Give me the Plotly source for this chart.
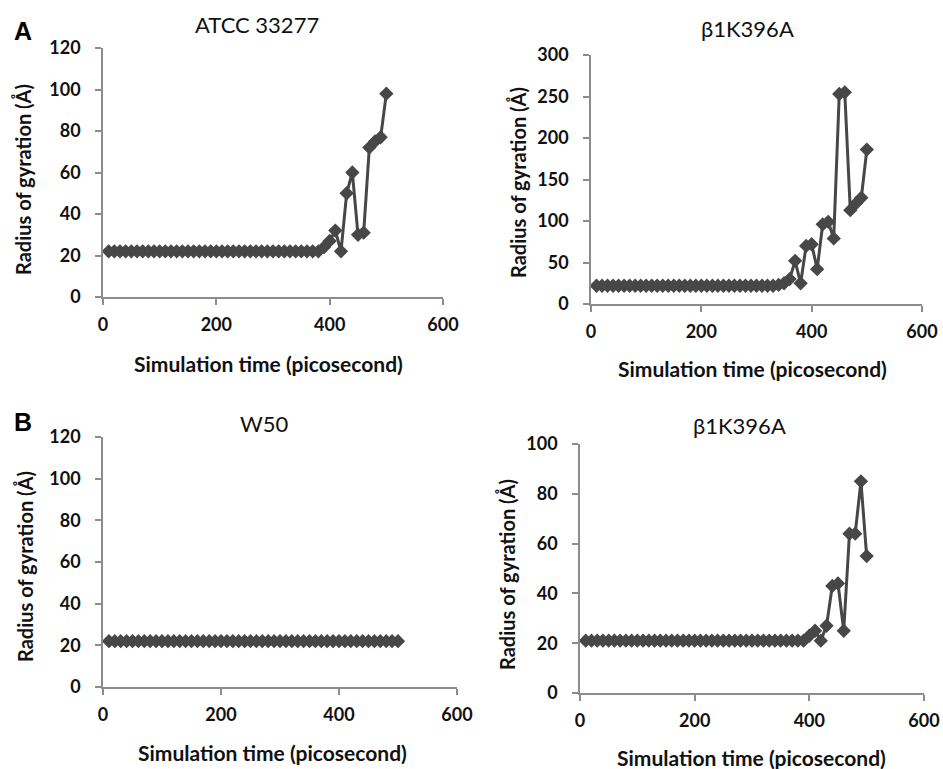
import plotly.graph_objects as go

W, H = 943, 769

time_ps = list(range(10, 510, 10))

atcc_33277 = [22] * 37 + [22, 24, 27, 32, 22, 50, 60, 30, 31, 72, 75, 77, 98]
b1k396a_top = [22] * 32 + [22, 23, 25, 30, 52, 25, 70, 72, 42, 96, 99, 79, 253, 255, 113, 121, 128, 186]
w50 = [22] * 50
b1k396a_bottom = [21] * 39 + [23, 25, 21, 27, 43, 44, 25, 64, 64, 85, 55]

panel_titles = ["ATCC 33277", "β1K396A", "W50", "β1K396A"]
y_ranges = [(0, 120, 20), (0, 300, 50), (0, 120, 20), (0, 100, 20)]
x_ticks = [0, 200, 400, 600]
x_title = "Simulation time (picosecond)"
y_title = "Radius of gyration (Å)"

# pixel boxes in the reference: (left, right, top, bottom)
boxes = [(103, 443, 48, 297), (591, 922, 55, 304), (103, 457, 437, 687), (580, 924, 444, 693)]
series = [atcc_33277, b1k396a_top, w50, b1k396a_bottom]


def px_x(px):
    return px / W


def px_y(py):
    return 1 - py / H


LINE = "#474747"
AX = "#8c8c8c"
FONT = "Lato"

fig = go.Figure()
annotations = []
for i, (box, ys, title, yr) in enumerate(zip(boxes, series, panel_titles, y_ranges)):
    l, r, t, b = box
    xa = "xaxis" if i == 0 else f"xaxis{i+1}"
    ya = "yaxis" if i == 0 else f"yaxis{i+1}"
    xref = "x" if i == 0 else f"x{i+1}"
    yref = "y" if i == 0 else f"y{i+1}"
    fig.add_trace(go.Scatter(
        x=time_ps, y=ys, mode="lines+markers", xaxis=xref, yaxis=yref,
        line=dict(color=LINE, width=3),
        marker=dict(symbol="diamond", size=11, color=LINE),
        showlegend=False, cliponaxis=False,
    ))
    fig.layout[xa] = dict(
        domain=[px_x(l), px_x(r)], anchor=yref, range=[0, 600], tickvals=x_ticks,
        showgrid=False, zeroline=False, showline=True, linecolor=AX, linewidth=1.5,
        ticks="outside", ticklen=6, tickcolor=AX, tickwidth=1.5, automargin=False,
        tickfont=dict(family=FONT, size=18, color="#111", weight="bold"), ticklabelstandoff=5,
    )
    fig.layout[ya] = dict(
        domain=[px_y(b), px_y(t)], anchor=xref, range=[yr[0], yr[1]],
        tickvals=list(range(yr[0], yr[1] + 1, yr[2])),
        showgrid=False, zeroline=False, showline=True, linecolor=AX, linewidth=1.5,
        ticks="outside", ticklen=6, tickcolor=AX, tickwidth=1.5, automargin=False,
        tickfont=dict(family=FONT, size=18, color="#111", weight="bold"), ticklabelstandoff=11,
    )

title_pos = [(257, 24), (747, 28), (264, 424), (739, 425)]
for (tx, ty), title in zip(title_pos, panel_titles):
    annotations.append(dict(text=title, x=px_x(tx), y=px_y(ty), xref="paper", yref="paper",
                            showarrow=False, xanchor="center", yanchor="middle",
                            font=dict(family=FONT, size=22, color="#111")))

xt_pos = [(268, 364), (752, 368), (272, 752), (751, 757)]
for tx, ty in xt_pos:
    annotations.append(dict(text=f"<b>{x_title}</b>", x=px_x(tx), y=px_y(ty), xref="paper", yref="paper",
                            showarrow=False, xanchor="center", yanchor="middle",
                            font=dict(family=FONT, size=21, color="#111")))

yt_pos = [(23, 180), (518, 183), (25, 567), (507, 575)]
for tx, ty in yt_pos:
    annotations.append(dict(text=f"<b>{y_title}</b>", x=px_x(tx), y=px_y(ty), xref="paper", yref="paper",
                            showarrow=False, xanchor="center", yanchor="middle", textangle=-90,
                            font=dict(family=FONT, size=20, color="#111")))

for lbl, (tx, ty) in zip(["A", "B"], [(23, 31), (23, 422)]):
    annotations.append(dict(text=f"<b>{lbl}</b>", x=px_x(tx), y=px_y(ty), xref="paper", yref="paper",
                            showarrow=False, xanchor="center", yanchor="middle",
                            font=dict(family="Liberation Sans", size=25, color="#000")))

fig.update_layout(
    width=W, height=H, margin=dict(l=0, r=0, t=0, b=0, autoexpand=False),
    paper_bgcolor="white", plot_bgcolor="white",
    annotations=annotations,
)

# remove the browser's default 8 px body margin so the figure fills the window exactly
fig.write_html(
    "out.html",
    config={"displayModeBar": False},
    post_script="document.body.style.margin='0px';document.body.style.overflow='hidden';",
)
